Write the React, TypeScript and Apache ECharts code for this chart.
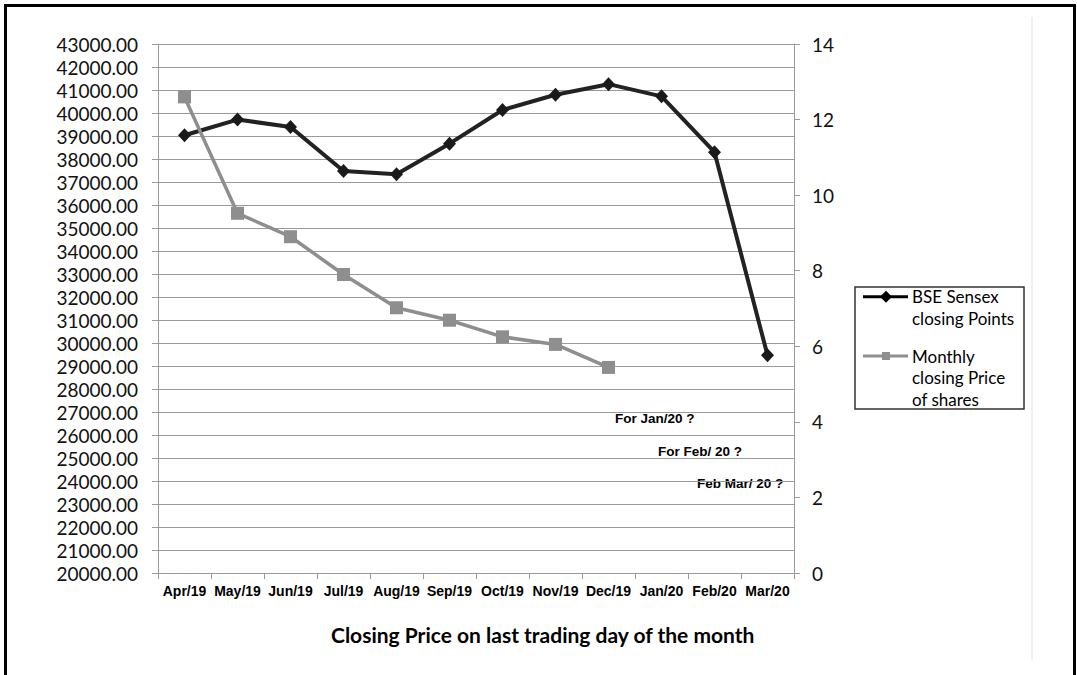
import React, { useEffect, useRef } from "react";
import * as echarts from "echarts";

const categories = ["Apr/19", "May/19", "Jun/19", "Jul/19", "Aug/19", "Sep/19", "Oct/19", "Nov/19", "Dec/19", "Jan/20", "Feb/20", "Mar/20"];
const sensexPoints = [39031.55, 39714.2, 39394.64, 37481.12, 37332.79, 38667.33, 40129.05, 40793.81, 41253.74, 40723.49, 38297.29, 29468.49];
const sharePrices = [12.6, 9.52, 8.9, 7.9, 7.02, 6.69, 6.25, 6.05, 5.44, null, null, null];
const seriesNames = ["BSE Sensex closing Points", "Monthly closing Price of shares"];
const legendLines1 = ["BSE Sensex", "closing Points"];
const legendLines2 = ["Monthly", "closing Price", "of shares"];
const notes = ["For Jan/20 ?", "For Feb/ 20 ?", "Feb Mar/ 20 ?"];
const xTitle = "Closing Price on last trading day of the month";

const CAL = 'Lato, "Open Sans", sans-serif';
const ARI = '"Liberation Sans", Arial, sans-serif';

export default function App() {
  const ref = useRef<HTMLDivElement>(null);
  useEffect(() => {
    if (!ref.current) return;
    const chart = echarts.init(ref.current, null, { renderer: "svg" });
    const gridGray = "#9a9a9a";
    const legendText = (lines: string[], y0: number) =>
      lines.map((t, i) => ({
        type: "text",
        z: 12,
        style: {
          text: t,
          x: 912,
          y: y0 + i * 21.7,
          font: `17px ${CAL}`,
          fill: "#000",
          align: "left",
          textAlign: "left",
          verticalAlign: "middle",
          textVerticalAlign: "middle",
        },
      }));
    const noteText = (t: string, x: number, y: number) => ({
      type: "text",
      style: {
        text: t,
        x,
        y,
        font: `bold 13.5px ${ARI}`,
        fill: "#000",
        align: "left",
        textAlign: "left",
        verticalAlign: "middle",
        textVerticalAlign: "middle",
      },
    });
    chart.setOption({
      animation: false,
      backgroundColor: "#fff",
      grid: { left: 158, right: 283, top: 44, bottom: 102, containLabel: false },
      xAxis: {
        type: "category",
        data: categories,
        boundaryGap: true,
        axisLine: { lineStyle: { color: gridGray, width: 1 } },
        axisTick: { show: true, interval: 0, length: 6, lineStyle: { color: gridGray } },
        axisLabel: { interval: 0, margin: 11, color: "#000", fontFamily: ARI, fontWeight: "bold", fontSize: 14 },
        splitLine: { show: false },
      },
      yAxis: [
        {
          type: "value",
          min: 20000,
          max: 43000,
          interval: 1000,
          position: "left",
          axisLine: { show: true, lineStyle: { color: gridGray, width: 1 } },
          axisTick: { show: true, length: 6, lineStyle: { color: gridGray } },
          axisLabel: { margin: 20, color: "#111", fontFamily: CAL, fontSize: 19, formatter: (v: number) => v.toFixed(2) },
          splitLine: { show: true, lineStyle: { color: gridGray, width: 1 } },
        },
        {
          type: "value",
          min: 0,
          max: 14,
          interval: 2,
          position: "right",
          axisLine: { show: true, lineStyle: { color: gridGray, width: 1 } },
          axisTick: { show: true, length: 6, lineStyle: { color: gridGray } },
          axisLabel: { margin: 18, color: "#111", fontFamily: CAL, fontSize: 19 },
          splitLine: { show: false },
        },
      ],
      series: [
        {
          name: seriesNames[0],
          type: "line",
          yAxisIndex: 0,
          data: sensexPoints,
          symbol: "diamond",
          symbolSize: [13, 14],
          lineStyle: { color: "#222", width: 4 },
          itemStyle: { color: "#1a1a1a" },
          z: 3,
        },
        {
          name: seriesNames[1],
          type: "line",
          yAxisIndex: 1,
          data: sharePrices,
          connectNulls: false,
          symbol: "rect",
          symbolSize: 13,
          lineStyle: { color: "#8e8e8e", width: 3.5 },
          itemStyle: { color: "#8e8e8e" },
          z: 4,
        },
      ],
      graphic: [
        { type: "rect", shape: { x: 5.5, y: 5.5, width: 1069, height: 700 }, style: { fill: "none", stroke: "#000", lineWidth: 3 }, silent: true },
        { type: "line", shape: { x1: 1032, y1: 17, x2: 1032, y2: 660 }, style: { stroke: "#e2e2e2", lineWidth: 1 }, silent: true },
        { type: "rect", shape: { x: 855, y: 287, width: 169, height: 122 }, style: { fill: "#fff", stroke: "#333", lineWidth: 1.5 }, z: 10 },
        { type: "line", shape: { x1: 863, y1: 296.7, x2: 908, y2: 296.7 }, style: { stroke: "#000", lineWidth: 3 }, z: 11 },
        { type: "polygon", shape: { points: [[886, 290.7], [892, 296.7], [886, 302.7], [880, 296.7]] }, style: { fill: "#000" }, z: 12 },
        { type: "line", shape: { x1: 863, y1: 356, x2: 908, y2: 356 }, style: { stroke: "#8e8e8e", lineWidth: 3 }, z: 11 },
        { type: "rect", shape: { x: 882, y: 352, width: 8, height: 8 }, style: { fill: "#8e8e8e" }, z: 12 },
        ...legendText(legendLines1, 296.7),
        ...legendText(legendLines2, 356),
        noteText(notes[0], 615, 418),
        noteText(notes[1], 658, 451),
        noteText(notes[2], 697, 483),
        {
          type: "text",
          style: {
            text: xTitle,
            x: 331,
            y: 634,
            font: `bold 21px ${CAL}`,
            fill: "#000",
            align: "left",
            textAlign: "left",
            verticalAlign: "middle",
            textVerticalAlign: "middle",
          },
        },
      ],
    });
    return () => chart.dispose();
  }, []);
  return <div ref={ref} style={{ position: "fixed", left: 0, top: 0, width: 1077, height: 675, background: "#fff" }} />;
}
